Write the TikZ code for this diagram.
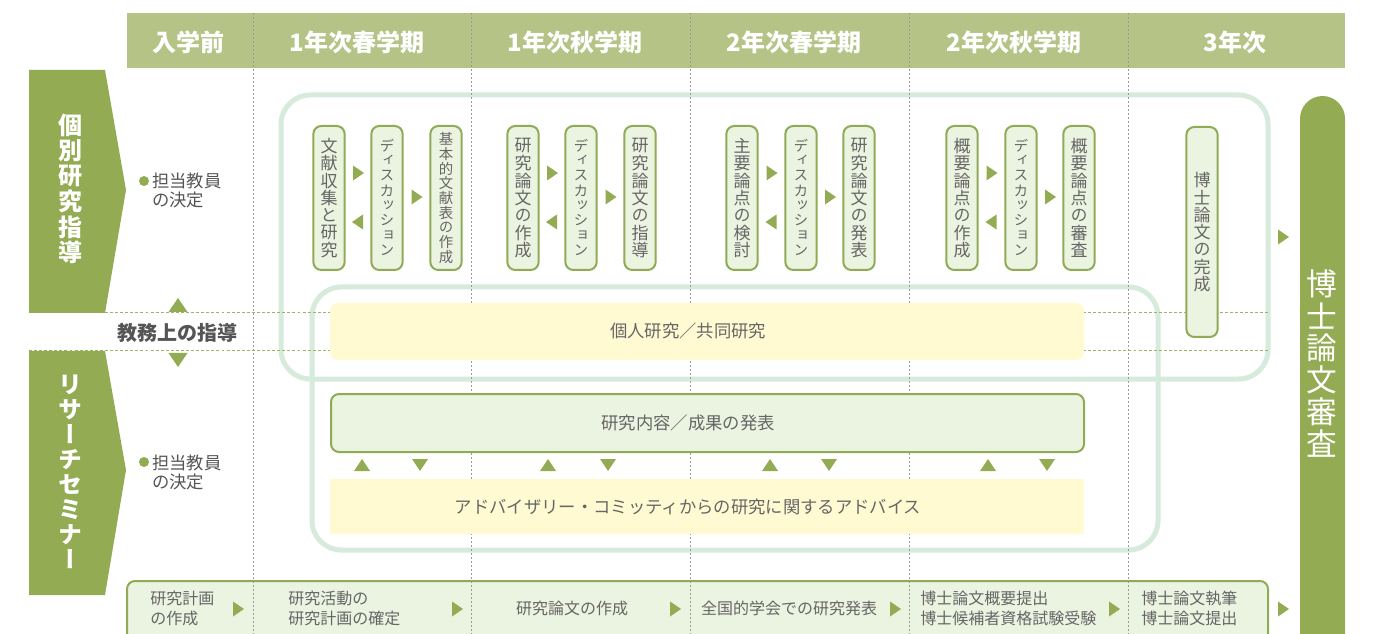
\documentclass[tikz,border=0pt]{standalone}
\usepackage{fontspec}
\setmainfont{Noto Sans CJK JP}
\newfontfamily\vfont[RawFeature=+vert]{Noto Sans CJK JP}
\definecolor{hdr}{HTML}{B5C486}
\definecolor{olive}{HTML}{93AB52}
\definecolor{boxfill}{HTML}{EBF3E1}
\definecolor{boxline}{HTML}{8FAB55}
\definecolor{ring}{HTML}{D6EBDB}
\definecolor{yel}{HTML}{FFFAD2}
\definecolor{txt}{HTML}{666666}
\definecolor{dtxt}{HTML}{555555}
\definecolor{gridc}{HTML}{9A9A9A}
\definecolor{hdash}{HTML}{9CB36A}
\makeatletter
\newlength\vtpitch
\newcommand\vtxt[2]{\setlength\vtpitch{#1}\vbox{\offinterlineskip\vfont\@tfor\vt@ch:=#2\do{\hbox to 1.1em{\hss\vbox to \vtpitch{\vss\hbox{\vt@ch}\vss}\hss}}}}
\makeatother
\tikzset{
  hdrtxt/.style={text=white, font=\fontsize{18pt}{20pt}\selectfont\bfseries, inner sep=0pt},
  vstep/.style={draw=boxline, fill=boxfill, line width=1.5pt, rounded corners=6pt, minimum width=23.5pt, minimum height=108pt, inner sep=0pt, text=txt, font=\fontsize{12.75pt}{13pt}\selectfont},
  midtxt/.style={text=txt, font=\fontsize{13pt}{15pt}\selectfont, inner sep=0pt},
  bottxt/.style={text=txt, font=\fontsize{12pt}{15pt}\selectfont, align=left, inner sep=0pt},
  lefttxt/.style={text=dtxt, font=\fontsize{13pt}{14.25pt}\selectfont, align=left, inner sep=0pt},
  bigtxt/.style={text=white, font=\fontsize{18pt}{19pt}\selectfont\bfseries, inner sep=0pt},
  gridline/.style={draw=gridc, line width=0.75pt, dash pattern=on 1.5pt off 1.5pt},
  hdashline/.style={draw=hdash, line width=0.75pt, dash pattern=on 2.2pt off 1.6pt},
  ringline/.style={draw=ring, line width=3.75pt, rounded corners=22pt},
  triR/.pic={\fill[olive] (-5,-7.5) -- (6,0) -- (-5,7.5) -- cycle;},
  triL/.pic={\fill[olive] (5,-7.5) -- (-6,0) -- (5,7.5) -- cycle;},
  triU/.pic={\fill[olive] (-8,6) -- (0,-6) -- (8,6) -- cycle;},
  triD/.pic={\fill[olive] (-8,-6) -- (0,6) -- (8,-6) -- cycle;},
  bigU/.pic={\fill[olive] (-9.5,7) -- (0,-7) -- (9.5,7) -- cycle;},
  bigD/.pic={\fill[olive] (-9.5,-7) -- (0,7) -- (9.5,-7) -- cycle;}
}
\begin{document}
\begin{tikzpicture}[x=0.75pt,y=-0.75pt]
\useasboundingbox (0,0) rectangle (1377,634);
\clip (0,0) rectangle (1377,634);
\fill[white] (0,0) rectangle (1377,634);
% header
\fill[hdr] (127,13) rectangle (1345,68);
% bottom box
\draw[draw=boxline, fill=boxfill, line width=1.5pt, rounded corners=6pt] (127,581) rectangle (1268,690);
% rings
\draw[ringline] (281,95) rectangle (1268,379);
\draw[ringline] (312,287) rectangle (1158,550);
% grid
\foreach \gx in {253,471,690,909,1128} \draw[gridline] (\gx,13) -- (\gx,640);
% horizontal dashes
\draw[hdashline] (29,313) -- (1268,313);
\draw[hdashline] (29,351) -- (1268,351);
% header labels
\node[hdrtxt] (h1) at (188,42) {入学前};
\node[hdrtxt] (h2) at (357,42) {1年次春学期};
\node[hdrtxt] (h3) at (575,42) {1年次秋学期};
\node[hdrtxt] (h4) at (794,42) {2年次春学期};
\node[hdrtxt] (h5) at (1014,42) {2年次秋学期};
\node[hdrtxt] (h6) at (1235,42) {3年次};
% left pentagons
\fill[olive] (29,70) -- (105,70) -- (126,190) -- (105,313) -- (29,313) -- cycle;
\node[bigtxt] (p1) at (70,189) {\vtxt{19pt}{個別研究指導}};
\fill[olive] (29,351) -- (105,351) -- (126,470) -- (105,595) -- (29,595) -- cycle;
\node[bigtxt] (p2) at (70,472) {\vtxt{18.75pt}{リサーチセミナー}};
% left items
\fill[olive] (144,181) circle (5);
\node[lefttxt, anchor=west] (t1) at (152,190) {担当教員\\の決定};
\fill[olive] (144,462) circle (5);
\node[lefttxt, anchor=west] (t2) at (152,472) {担当教員\\の決定};
\pic at (178,305) {bigU};
\pic at (178,360) {bigD};
\node[text=dtxt, font=\fontsize{15pt}{16pt}\selectfont\bfseries, inner sep=0pt] (kyomu) at (177,333) {教務上の指導};
% middle boxes
\fill[yel, rounded corners=6pt] (330,303) rectangle (1084,360);
\node[midtxt] (kojin) at (688,331) {個人研究／共同研究};
\draw[draw=boxline, fill=boxfill, line width=1.5pt, rounded corners=6pt] (331,394) rectangle (1084,452);
\node[midtxt] (happyo) at (688,423) {研究内容／成果の発表};
\fill[yel] (330,479) rectangle (1084,534);
\node[midtxt] (advice) at (688,507) {アドバイザリー・コミッティからの研究に関するアドバイス};
\foreach \ux in {362,548,770,988} \pic at (\ux,465) {triU};
\foreach \dx in {420,608,829,1047} \pic at (\dx,465) {triD};
% column 2
\node[vstep] (c2a) at (329,198) {\vtxt{13pt}{文献収集と研究}};
\node[vstep] (c2b) at (387,198) {\fontsize{11pt}{11pt}\selectfont\vtxt{11.2pt}{ディスカッション}};
\node[vstep] (c2c) at (446,198) {\fontsize{10.8pt}{11pt}\selectfont\vtxt{11pt}{基本的文献表の作成}};
% column 3
\node[vstep] (c3a) at (523,198) {\vtxt{13pt}{研究論文の作成}};
\node[vstep] (c3b) at (581,198) {\fontsize{11pt}{11pt}\selectfont\vtxt{11.2pt}{ディスカッション}};
\node[vstep] (c3c) at (640,198) {\vtxt{13pt}{研究論文の指導}};
% column 4
\node[vstep] (c4a) at (742,198) {\vtxt{13pt}{主要論点の検討}};
\node[vstep] (c4b) at (801,198) {\fontsize{11pt}{11pt}\selectfont\vtxt{11.2pt}{ディスカッション}};
\node[vstep] (c4c) at (859,198) {\vtxt{13pt}{研究論文の発表}};
% column 5
\node[vstep] (c5a) at (962,198) {\vtxt{13pt}{概要論点の作成}};
\node[vstep] (c5b) at (1021,198) {\fontsize{11pt}{11pt}\selectfont\vtxt{11.2pt}{ディスカッション}};
\node[vstep] (c5c) at (1079,198) {\vtxt{13pt}{概要論点の審査}};
% column 6
\node[vstep, minimum height=157.5pt] (c6) at (1202,232) {\vtxt{13pt}{博士論文の完成}};
% column arrows
\foreach \a/\b/\c in {329/387/446,523/581/640,742/801/859,962/1021/1079}{
  \pic at ({(\a+\b)/2},173) {triR};
  \pic at ({(\a+\b)/2},222) {triL};
  \pic at ({(\b+\c)/2},197) {triR};
}
% right big box
\fill[olive, rounded corners=17pt] (1300,96) rectangle (1345,720);
\node[text=white, font=\fontsize{23pt}{24pt}\selectfont, inner sep=0pt] (shinsa) at (1322,364) {\vtxt{24pt}{博士論文審査}};
\pic at (1283,237) {triR};
% bottom texts
\node[bottxt, anchor=west] (b1) at (150,608) {研究計画\\の作成};
\node[bottxt, anchor=west] (b2) at (288,608) {研究活動の\\研究計画の確定};
\node[bottxt] (b3) at (572,608) {研究論文の作成};
\node[bottxt] (b4) at (789,608) {全国的学会での研究発表};
\node[bottxt, anchor=west] (b5) at (920,608) {博士論文概要提出\\博士候補者資格試験受験};
\node[bottxt, anchor=west] (b6) at (1141,608) {博士論文執筆\\博士論文提出};
\foreach \bx in {238,457,675,895,1114,1283} \pic at (\bx,609) {triR};
\end{tikzpicture}
\end{document}
